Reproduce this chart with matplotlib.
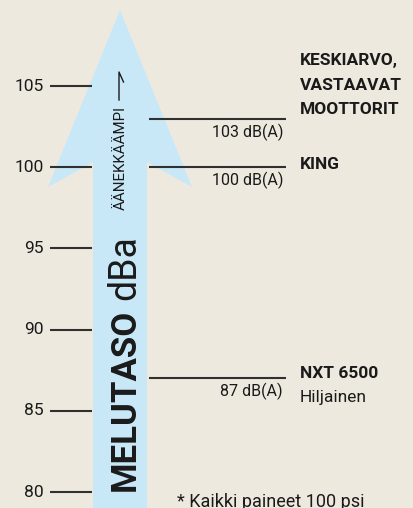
import matplotlib
matplotlib.use("Agg")
import matplotlib.pyplot as plt
from matplotlib.patches import Polygon

# scale ticks (dB)
TICK_VALUES = [80, 85, 90, 95, 100, 105]

# measured levels and their labels
LEVELS = [103, 100, 87]
LEVEL_LABELS = ["103 dB(A)", "100 dB(A)", "87 dB(A)"]
NAMES = ["KESKIARVO,\nVASTAAVAT\nMOOTTORIT", "KING", "NXT 6500"]
SUBNAMES = ["", "", "Hiljainen"]

AXIS_TITLE_BOLD = "MELUTASO"
AXIS_TITLE_REG = "dBa"
DIRECTION_TEXT = "ÄÄNEKKÄÄMPI"
FOOTNOTE = "* Kaikki paineet 100 psi"

BG = "#eee9df"
ARROW_BLUE = "#c8e8f8"
INK = "#1a1a1a"
LINE = "#303030"
FONT = ["Roboto", "DejaVu Sans"]

W, H = 413, 508
Y_TOP, Y_BOT = 110.30, 79.015


def py(p):
    """pixel row -> dB value on the vertical scale"""
    return Y_TOP - p * (Y_TOP - Y_BOT) / H


plt.rcParams["font.family"] = FONT

fig = plt.figure(figsize=(W / 100, H / 100), dpi=100, facecolor=BG)
ax = fig.add_axes([0, 0, 1, 1])
ax.set_xlim(0, W)
ax.set_ylim(Y_BOT, Y_TOP)
ax.axis("off")
ax.set_facecolor(BG)

# big arrow
arrow = Polygon(
    [(120, py(10)), (192, py(187)), (147, py(162)), (147, Y_BOT - 1),
     (93, Y_BOT - 1), (93, py(162)), (48, py(187))],
    closed=True, facecolor=ARROW_BLUE, edgecolor="none", zorder=1)
ax.add_patch(arrow)

# scale
for v in TICK_VALUES:
    ax.plot([50, 92], [v, v], color=LINE, lw=1.5, solid_capstyle="butt", zorder=2)
    ax.text(44, v, str(v), ha="right", va="center", fontsize=12.5, color=INK)

# level markers
for lvl, lab in zip(LEVELS, LEVEL_LABELS):
    ax.plot([149, 286], [lvl, lvl], color=LINE, lw=1.5, solid_capstyle="butt", zorder=2)
    ax.text(283, lvl - 0.3, lab, ha="right", va="top", fontsize=11.5, color=INK)

# names next to the markers
name_rows = [[60, 85, 110], [165], [373]]
for name, rows in zip(NAMES, name_rows):
    for line, row in zip(name.split("\n"), rows):
        ax.text(300, py(row), line, ha="left", va="center", fontsize=12.5,
                fontweight="bold", color=INK)
ax.text(300, py(398), SUBNAMES[2], ha="left", va="center", fontsize=12.5, color=INK)

# axis title inside the arrow
ax.text(135, py(491), AXIS_TITLE_BOLD, rotation=90, rotation_mode="anchor",
        ha="left", va="baseline", fontsize=25, fontweight="bold", color=INK)
ax.text(135, py(300), AXIS_TITLE_REG, rotation=90, rotation_mode="anchor",
        ha="left", va="baseline", fontsize=27, color=INK)

ax.text(125, py(210), DIRECTION_TEXT, rotation=90, rotation_mode="anchor",
        ha="left", va="baseline", fontsize=10.8, color=INK)
ax.plot([119, 119, 123.5], [py(100), py(72), py(82)], color=INK, lw=1.0, zorder=3)

ax.text(177, py(507), FOOTNOTE, ha="left", va="baseline", fontsize=13, color=INK)

fig.savefig("out.png", dpi=100, facecolor=BG)
